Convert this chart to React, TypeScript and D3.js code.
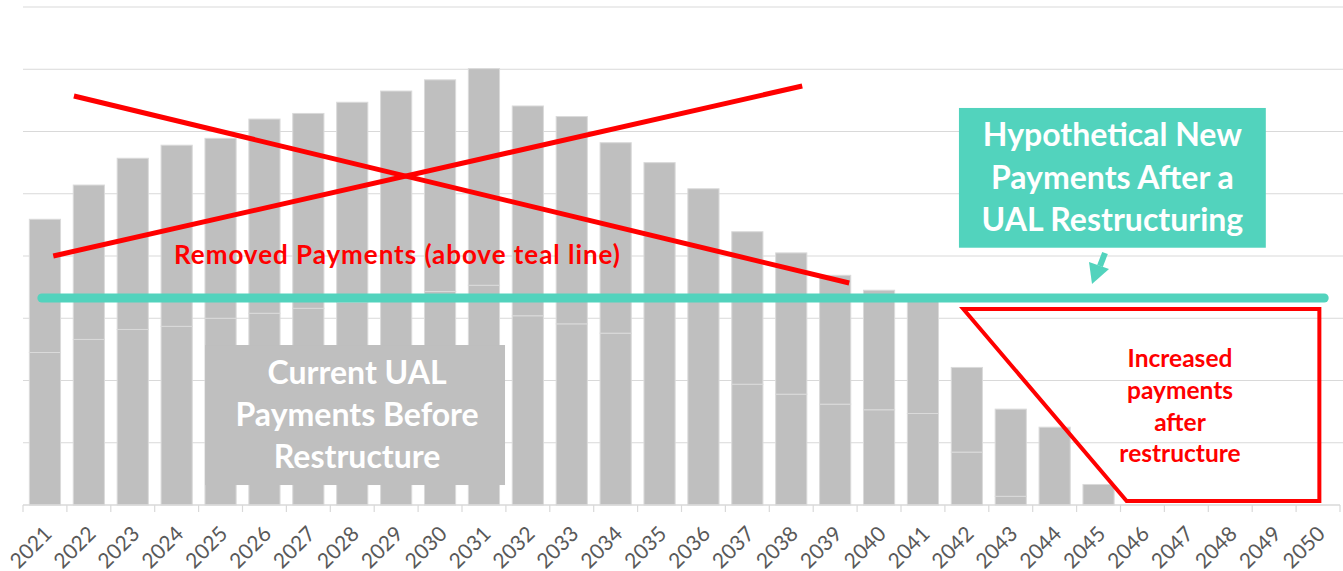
import React from 'react';
import * as d3 from 'd3';

// ---------- Data (values in gridline units; the chart shows no y labels) ----------
const years = [
  '2021', '2022', '2023', '2024', '2025', '2026', '2027', '2028', '2029', '2030',
  '2031', '2032', '2033', '2034', '2035', '2036', '2037', '2038', '2039', '2040',
  '2041', '2042', '2043', '2044', '2045', '2046', '2047', '2048', '2049', '2050',
];
const totalPayments = [
  4.59, 5.14, 5.57, 5.78, 5.89, 6.2, 6.29, 6.47, 6.65, 6.83,
  7.01, 6.41, 6.24, 5.82, 5.5, 5.08, 4.39, 4.05, 3.69, 3.45,
  3.34, 2.21, 1.54, 1.25, 0.33, 0, 0, 0, 0, 0,
];
const lowerSegment = [
  2.45, 2.66, 2.82, 2.87, 3.0, 3.08, 3.16, 3.26, 3.34, 3.43,
  3.53, 3.04, 2.91, 2.76, 5.5, 5.08, 1.94, 1.78, 1.62, 1.53,
  1.47, 0.85, 0.14, 1.25, 0.33, 0, 0, 0, 0, 0,
];
const gridValues = [1, 2, 3, 4, 5, 6, 7, 8];
const newPaymentLevel = 3.325;
const newPaymentSpan = [2020.93, 2050.14];

// annotation geometry in (year, value) space
const crossLineA: [number, number][] = [[2021.66, 6.57], [2039.32, 3.566]];
const crossLineB: [number, number][] = [[2021.19, 4.0], [2038.25, 6.73]];
const increaseOutline: [number, number][] = [
  [2041.92, 3.149], [2050.03, 3.149], [2050.03, 0.064], [2045.64, 0.064],
];
const tealBox = { x0: 2041.82, x1: 2048.81, y0: 6.378, y1: 4.133 };
const grayBox = { x0: 2024.65, x1: 2031.48, y0: 2.57, y1: 0.321 };

const tealLines = ['Hypothetical New', 'Payments After a', 'UAL Restructuring'];
const grayLines = ['Current UAL', 'Payments Before', 'Restructure'];
const increaseLines = ['Increased', 'payments', 'after', 'restructure'];
const removedLabel = 'Removed Payments (above teal line)';

// ---------- Layout ----------
const W = 1343;
const H = 571;
const plotLeft = 23;
const plotRight = 1340;
const baseY = 505;
const topY = 7;

const BAR = '#bfbfbf';
const BAR_EDGE = '#dadada';
const GRID = '#d9d9d9';
const TEAL = '#52d3bd';
const RED = '#ff0000';
const FONT = "Lato, 'Open Sans', 'Noto Sans', sans-serif";

export default function App() {
  const x = d3.scaleBand<string>().domain(years).range([plotLeft, plotRight]).paddingInner(0.29).paddingOuter(0.145);
  const y = d3.scaleLinear().domain([0, 8]).range([baseY, topY]);
  const bw = x.bandwidth();
  const step = x.step();
  const xYear = d3
    .scaleLinear()
    .domain([2021, 2050])
    .range([(x('2021') as number) + bw / 2, (x('2050') as number) + bw / 2]);

  const line = d3
    .line<[number, number]>()
    .x((d) => xYear(d[0]))
    .y((d) => y(d[1]));

  const stacked = years.map((yr, i) => ({
    yr,
    lower: Math.min(lowerSegment[i], totalPayments[i]),
    total: totalPayments[i],
  }));

  const tb = {
    x: xYear(tealBox.x0),
    y: y(tealBox.y0),
    w: xYear(tealBox.x1) - xYear(tealBox.x0),
    h: y(tealBox.y1) - y(tealBox.y0),
  };
  const gb = {
    x: xYear(grayBox.x0),
    y: y(grayBox.y0),
    w: xYear(grayBox.x1) - xYear(grayBox.x0),
    h: y(grayBox.y1) - y(grayBox.y0),
  };

  const tickXs = d3.range(years.length + 1).map((i) => plotLeft + i * step);

  return (
    <svg
      width={W}
      height={H}
      style={{ position: 'absolute', left: 0, top: 0, background: '#fff' }}
      fontFamily={FONT}
    >
      {/* gridlines */}
      {gridValues.map((v) => (
        <line key={v} x1={plotLeft} x2={W} y1={y(v)} y2={y(v)} stroke={GRID} strokeWidth={1.2} />
      ))}

      {/* bars (two stacked segments) */}
      {stacked.map((d) =>
        d.total > 0 ? (
          <g key={d.yr}>
            <rect
              x={x(d.yr)}
              y={y(d.lower)}
              width={bw}
              height={y(0) - y(d.lower)}
              fill={BAR}
              stroke={BAR_EDGE}
              strokeWidth={1}
            />
            {d.total > d.lower && (
              <rect
                x={x(d.yr)}
                y={y(d.total)}
                width={bw}
                height={y(d.lower) - y(d.total)}
                fill={BAR}
                stroke={BAR_EDGE}
                strokeWidth={1}
              />
            )}
          </g>
        ) : null
      )}

      {/* x axis */}
      <line x1={plotLeft} x2={plotRight} y1={baseY} y2={baseY} stroke={GRID} strokeWidth={1.3} />
      {tickXs.map((tx, i) => (
        <line key={i} x1={tx} x2={tx} y1={baseY} y2={baseY + 7} stroke={GRID} strokeWidth={1.2} />
      ))}
      {years.map((yr) => {
        const cx = (x(yr) as number) + bw / 2;
        return (
          <text
            key={yr}
            transform={`translate(${cx + 3},${530}) rotate(-45)`}
            textAnchor="end"
            dy="0.35em"
            fontSize={21}
            fill="#595959"
          >
            {yr}
          </text>
        );
      })}

      {/* gray label box */}
      <rect x={gb.x} y={gb.y} width={gb.w} height={gb.h} fill={BAR} />
      {grayLines.map((t, i) => (
        <text
          key={t}
          x={gb.x + gb.w / 2 + 2}
          y={gb.y + 39 + i * 42}
          textAnchor="middle"
          fontSize={32}
          fontWeight={700}
          fill="#ffffff"
        >
          {t}
        </text>
      ))}

      {/* new payment level */}
      <line
        x1={xYear(newPaymentSpan[0])}
        x2={xYear(newPaymentSpan[1])}
        y1={y(newPaymentLevel)}
        y2={y(newPaymentLevel)}
        stroke={TEAL}
        strokeWidth={9}
        strokeLinecap="round"
      />

      {/* crossing red lines */}
      <path d={line(crossLineA) || ''} stroke={RED} strokeWidth={5} fill="none" />
      <path d={line(crossLineB) || ''} stroke={RED} strokeWidth={5} fill="none" />

      <text
        x={397}
        y={y(newPaymentLevel) - 34.5}
        textAnchor="middle"
        fontSize={26}
        fontWeight={700}
        fill={RED}
        textLength={446}
        lengthAdjust="spacing"
      >
        {removedLabel}
      </text>

      {/* teal box */}
      <rect x={tb.x} y={tb.y} width={tb.w} height={tb.h} fill={TEAL} />
      {tealLines.map((t, i) => (
        <text
          key={t}
          x={tb.x + tb.w / 2}
          y={tb.y + 38.5 + i * 42.5}
          textAnchor="middle"
          fontSize={32}
          fontWeight={700}
          fill="#ffffff"
        >
          {t}
        </text>
      ))}

      {/* teal arrow */}
      <line x1={1105} y1={253} x2={1100} y2={266} stroke={TEAL} strokeWidth={6} />
      <polygon points="1089,262 1109,269 1092,284" fill={TEAL} />

      {/* increased payments outline */}
      <path
        d={(line(increaseOutline) || '') + 'Z'}
        stroke={RED}
        strokeWidth={4}
        fill="none"
        strokeLinejoin="miter"
      />
      {increaseLines.map((t, i) => (
        <text
          key={t}
          x={1180}
          y={366.7 + i * 31.9}
          textAnchor="middle"
          fontSize={24.5}
          fontWeight={700}
          fill={RED}
        >
          {t}
        </text>
      ))}
    </svg>
  );
}
